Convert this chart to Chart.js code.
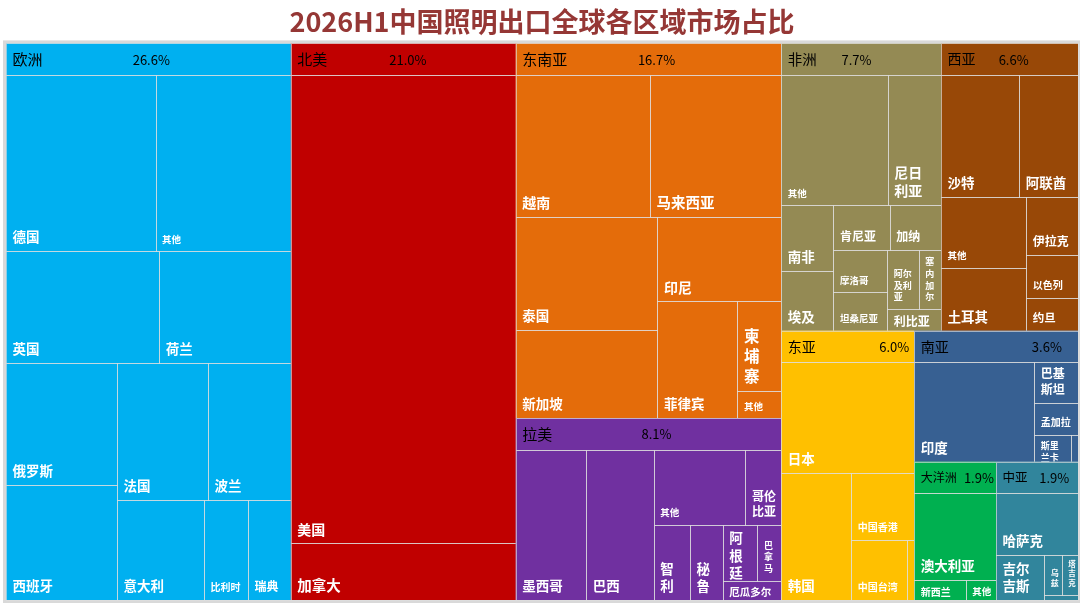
<!DOCTYPE html>
<html lang="zh-CN">
<head>
<meta charset="utf-8">
<title>2026H1中国照明出口全球各区域市场占比</title>
<script src="https://cdn.jsdelivr.net/npm/chart.js@4.4.1/dist/chart.umd.min.js"></script>
<style>
    html, body { margin: 0; padding: 0; background: #fff; }
    #wrap { width: 1080px; height: 606px; position: relative; }
</style>
</head>
<body>
<div id="wrap"><canvas id="shareChart"></canvas></div>
<script>
// DATA (占全球出口 %)
const regions = ['欧洲', '北美', '东南亚', '拉美', '非洲', '西亚', '东亚', '南亚', '大洋洲', '中亚'];

const euNames = ['德国', '其他', '英国', '荷兰', '俄罗斯', '西班牙', '法国', '波兰', '意大利', '比利时', '瑞典'];
const euShare = [4.69, 4.24, 3.05, 2.62, 2.40, 2.28, 2.22, 2.02, 1.54, 0.78, 0.76];

const naNames = ['美国', '加拿大'];
const naShare = [18.74, 2.26];

const seaNames = ['越南', '马来西亚', '泰国', '新加坡', '印尼', '菲律宾', '柬埔寨', '其他'];
const seaShare = [3.50, 3.43, 2.92, 2.29, 1.91, 1.71, 0.72, 0.22];

const laNames = ['墨西哥', '巴西', '其他', '哥伦比亚', '智利', '秘鲁', '阿根廷', '巴拿马', '厄瓜多尔'];
const laShare = [2.15, 2.06, 1.40, 0.55, 0.55, 0.50, 0.39, 0.27, 0.23];

const afNames = ['其他', '尼日利亚', '南非', '埃及', '肯尼亚', '加纳', '摩洛哥', '坦桑尼亚', '阿尔及利亚', '塞内加尔', '利比亚'];
const afShare = [2.62, 1.31, 0.64, 0.59, 0.47, 0.43, 0.43, 0.39, 0.35, 0.25, 0.22];

const waNames = ['沙特', '阿联酋', '其他', '土耳其', '伊拉克', '以色列', '约旦'];
const waShare = [1.79, 1.35, 1.14, 1.01, 0.57, 0.42, 0.32];

const eaNames = ['日本', '韩国', '中国香港', '中国台湾', '其他'];
const eaShare = [2.79, 1.69, 0.80, 0.64, 0.08];

const saNames = ['印度', '巴基斯坦', '孟加拉', '斯里兰卡', '其他'];
const saShare = [2.64, 0.39, 0.31, 0.22, 0.04];

const ocNames = ['澳大利亚', '新西兰', '其他'];
const ocShare = [1.55, 0.22, 0.13];

const caNames = ['哈萨克', '吉尔吉斯', '乌兹', '塔吉克', '其他'];
const caShare = [1.10, 0.47, 0.15, 0.14, 0.04];

const groupNames = [euNames, naNames, seaNames, laNames, afNames, waNames, eaNames, saNames, ocNames, caNames];
const groupShares = [euShare, naShare, seaShare, laShare, afShare, waShare, eaShare, saShare, ocShare, caShare];

// STYLE
const regionColors = ['#00B0F0', '#C00000', '#E46C0A', '#7030A0', '#948A54', '#984807', '#FFC000', '#376092', '#00B050', '#31859C'];
const pctPos = [0.51, 0.52, 0.53, 0.53, 0.47, 0.53, 0.85, 0.81, 0.79, 0.71];
const headerSize = [15, 15, 15, 15, 14.5, 14, 14, 14, 12, 12.5];
const HEADER_PX = 31.5;
const FONT = '"Noto Sans CJK SC", "Noto Sans", sans-serif';
const labelSize = {
    '其他': 9.5, '比利时': 10, '瑞典': 12, '摩洛哥': 9.5, '坦桑尼亚': 9.5, '阿尔及利亚': 9, '塞内加尔': 9,
    '肯尼亚': 12, '加纳': 12, '利比亚': 12, '尼日利亚': 14, '中国香港': 10, '中国台湾': 10,
    '新西兰': 10, '厄瓜多尔': 10.5, '巴拿马': 9, '哥伦比亚': 12, '孟加拉': 10, '斯里兰卡': 9, '巴基斯坦': 12,
    '以色列': 10, '伊拉克': 12, '约旦': 11.5, '乌兹': 8, '塔吉克': 7.5, '柬埔寨': 15.5,
    '美国': 14, '加拿大': 14.5, '越南': 14, '马来西亚': 14.5, '印尼': 14
};
const labelPerLine = { '柬埔寨': 1 };

// LAYOUT TREES (h = side by side, v = stacked)
const H = (...c) => ({ dir: 'h', c });
const V = (...c) => ({ dir: 'v', c });

const topTree = H('欧洲', '北美', V('东南亚', '拉美'),
    V(H('非洲', '西亚'), H('东亚', V('南亚', H('大洋洲', '中亚')))));

const groupTrees = {
    '欧洲': V(H('德国', '其他'), H('英国', '荷兰'),
        H(V('俄罗斯', '西班牙'), V(H('法国', '波兰'), H('意大利', '比利时', '瑞典')))),
    '北美': V('美国', '加拿大'),
    '东南亚': V(H('越南', '马来西亚'),
        H(V('泰国', '新加坡'), V('印尼', H('菲律宾', V('柬埔寨', '其他'))))),
    '拉美': H('墨西哥', '巴西',
        V(H('其他', '哥伦比亚'), H('智利', '秘鲁', V(H('阿根廷', '巴拿马'), '厄瓜多尔')))),
    '非洲': V(H('其他', '尼日利亚'),
        H(V('南非', '埃及'), V(H('肯尼亚', '加纳'),
            H(V('摩洛哥', '坦桑尼亚'), V(H('阿尔及利亚', '塞内加尔'), '利比亚'))))),
    '西亚': V(H('沙特', '阿联酋'), H(V('其他', '土耳其'), V('伊拉克', '以色列', '约旦'))),
    '东亚': V('日本', H('韩国', V('中国香港', H('中国台湾', '其他')))),
    '南亚': H('印度', V('巴基斯坦', '孟加拉', H('斯里兰卡', '其他'))),
    '大洋洲': V('澳大利亚', H('新西兰', '其他')),
    '中亚': V('哈萨克', H('吉尔吉斯', V(H('乌兹', '塔吉克'), '其他')))
};

function nodeValue(node, lookup) {
    if (typeof node === 'string') return lookup[node];
    return node.c.reduce((s, ch) => s + nodeValue(ch, lookup), 0);
}

function splitNode(node, r, lookup, out) {
    if (typeof node === 'string') {
        out.push({ name: node, r });
        return;
    }
    const total = nodeValue(node, lookup);
    let pos = node.dir === 'h' ? r.x0 : r.y0;
    node.c.forEach(ch => {
        const len = node.dir === 'h' ? r.x1 - r.x0 : r.y1 - r.y0;
        const span = len * nodeValue(ch, lookup) / total;
        const sub = node.dir === 'h'
            ? { x0: pos, x1: pos + span, y0: r.y0, y1: r.y1 }
            : { x0: r.x0, x1: r.x1, y0: pos, y1: pos + span };
        splitNode(ch, sub, lookup, out);
        pos += span;
    });
}

function outline(ctx, p) {
    const l = Math.round(p.left), t = Math.round(p.top);
    const r = Math.round(p.right), b = Math.round(p.bottom);
    ctx.strokeRect(l + 0.5, t + 0.5, r - l, b - t);
}

function leafLabel(ctx, name, p) {
    const w = p.right - p.left, h = p.bottom - p.top;
    if (w < 12 || h < 12) return;
    const fs = labelSize[name] || 13.5;
    ctx.font = `bold ${fs}px ${FONT}`;
    const avail = w - 10;
    let lines = [name];
    if (ctx.measureText(name).width > avail) {
        const chars = [...name];
        const maxPer = labelPerLine[name] || Math.max(1, Math.floor(avail / fs));
        const n = Math.ceil(chars.length / maxPer);
        const per = Math.ceil(chars.length / n);
        lines = [];
        for (let i = 0; i < chars.length; i += per) lines.push(chars.slice(i, i + per).join(''));
    }
    const lh = fs * 1.3;
    // bottom-anchored; top-anchored when the block does not fit
    let firstCy = p.bottom - 8 - fs * 0.45 - (lines.length - 1) * lh;
    if (firstCy - fs * 0.5 < p.top + 4) firstCy = p.top + 7 + fs * 0.45;
    ctx.save();
    ctx.beginPath();
    ctx.rect(p.left, p.top, w, h);
    ctx.clip();
    ctx.fillStyle = '#ffffff';
    ctx.textAlign = 'left';
    ctx.textBaseline = 'middle';
    lines.forEach((ln, i) => {
        ctx.fillText(ln, p.left + 6.5, firstCy + i * lh);
    });
    ctx.restore();
}

// TREEMAP PLUGIN
const treemapPlugin = {
    id: 'treemap',
    afterDatasetsDraw(chart) {
        const { ctx, chartArea, scales: { x, y } } = chart;
        const toPx = r => ({
            left: x.getPixelForValue(r.x0), right: x.getPixelForValue(r.x1),
            top: y.getPixelForValue(r.y0), bottom: y.getPixelForValue(r.y1)
        });
        const headerV = HEADER_PX / (y.getPixelForValue(1) - y.getPixelForValue(0));

        const totals = {};
        regions.forEach((name, i) => {
            totals[name] = groupShares[i].reduce((a, b) => a + b, 0);
        });
        const groupRects = [];
        splitNode(topTree, { x0: 0, x1: 100, y0: 0, y1: 100 }, totals, groupRects);

        // outer frame
        ctx.save();
        ctx.strokeStyle = '#d9d9d9';
        ctx.lineWidth = 3;
        ctx.strokeRect(chartArea.left - 1.5, chartArea.top - 1.5,
            chartArea.right - chartArea.left + 3, chartArea.bottom - chartArea.top + 3);
        ctx.restore();

        groupRects.forEach(g => {
            const gi = regions.indexOf(g.name);
            const color = regionColors[gi];
            const lookup = {};
            groupNames[gi].forEach((n, k) => { lookup[n] = groupShares[gi][k]; });

            const leaves = [];
            splitNode(groupTrees[g.name], { x0: g.r.x0, x1: g.r.x1, y0: g.r.y0 + headerV, y1: g.r.y1 }, lookup, leaves);

            const gp = toPx(g.r);
            const hp = toPx({ x0: g.r.x0, x1: g.r.x1, y0: g.r.y0, y1: g.r.y0 + headerV });

            ctx.save();
            ctx.fillStyle = color;
            ctx.fillRect(gp.left, gp.top, gp.right - gp.left, gp.bottom - gp.top);
            ctx.strokeStyle = 'rgba(222, 222, 222, 0.65)';
            ctx.lineWidth = 1;
            outline(ctx, hp);
            leaves.forEach(lf => outline(ctx, toPx(lf.r)));

            // header texts
            const hc = (hp.top + hp.bottom) / 2;
            ctx.fillStyle = '#000000';
            ctx.textBaseline = 'middle';
            ctx.textAlign = 'left';
            ctx.font = `${headerSize[gi]}px ${FONT}`;
            ctx.fillText(g.name, hp.left + 6.5, hc);
            ctx.textAlign = 'center';
            ctx.font = `13px ${FONT}`;
            ctx.fillText(totals[g.name].toFixed(1) + '%', hp.left + (hp.right - hp.left) * pctPos[gi], hc + 0.5);
            ctx.restore();

            leaves.forEach(lf => leafLabel(ctx, lf.name, toPx(lf.r)));
        });
    }
};

const chart = new Chart(document.getElementById('shareChart'), {
    type: 'scatter',
    data: { datasets: [] },
    options: {
        responsive: true,
        maintainAspectRatio: false,
        animation: false,
        layout: { padding: { left: 6, right: 2, top: 0, bottom: 6 } },
        plugins: {
            legend: { display: false },
            tooltip: { enabled: false },
            title: {
                display: true,
                text: '2026H1中国照明出口全球各区域市场占比',
                color: '#953735',
                font: { family: FONT, size: 27, weight: 'bold' },
                padding: { top: 6, bottom: 5 }
            }
        },
        scales: {
            x: { type: 'linear', min: 0, max: 100, display: false },
            y: { type: 'linear', min: 0, max: 100, reverse: true, display: false }
        }
    },
    plugins: [treemapPlugin]
});
</script>
</body>
</html>
